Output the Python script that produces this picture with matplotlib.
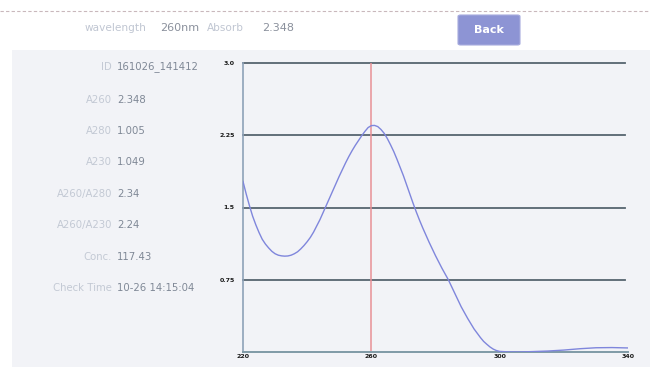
import matplotlib
matplotlib.use("Agg")
import matplotlib.pyplot as plt
from matplotlib.patches import Rectangle, FancyBboxPatch

# ---- data ----
wavelength = list(range(220, 301)) + [303, 306, 310, 315, 320, 325, 330, 335, 340]
absorb = [1.77, 1.64, 1.52, 1.41, 1.32, 1.24, 1.17, 1.12, 1.08, 1.045,
          1.02, 1.005, 0.998, 0.995, 0.997, 1.005, 1.02, 1.04, 1.07, 1.105,
          1.145, 1.19, 1.245, 1.31, 1.375, 1.45, 1.525, 1.60, 1.675, 1.75,
          1.825, 1.895, 1.965, 2.03, 2.09, 2.145, 2.195, 2.245, 2.29, 2.33,
          2.35, 2.352, 2.34, 2.31, 2.27, 2.215, 2.15, 2.08, 2.0, 1.915,
          1.83, 1.735, 1.64, 1.545, 1.455, 1.37, 1.29, 1.215, 1.14, 1.07,
          1.0, 0.935, 0.87, 0.81, 0.75, 0.68, 0.61, 0.54, 0.47, 0.41,
          0.35, 0.295, 0.24, 0.195, 0.15, 0.11, 0.08, 0.052, 0.03, 0.015,
          0.006, 0.001, 0.0, 0.004, 0.01, 0.02, 0.034, 0.044, 0.046, 0.042]
marker_wl = 260
y_ticks = [0.75, 1.5, 2.25, 3.0]
y_tick_labels = ["0.75", "1.5", "2.25", "3.0"]
x_ticks = [220, 260, 300, 340]
x_tick_labels = ["220", "260", "300", "340"]

info_labels = ["ID", "A260", "A280", "A230", "A260/A280", "A260/A230", "Conc.", "Check Time"]
info_values = ["161026_141412", "2.348", "1.005", "1.049", "2.34", "2.24", "117.43", "10-26 14:15:04"]
header_wavelength = "260nm"
header_absorb = "2.348"

W, H = 650, 367
fig = plt.figure(figsize=(W / 100, H / 100), dpi=100)
fig.patch.set_facecolor("white")

def fx(px):
    return px / W

def fy(py):
    return 1 - py / H

# panel background
fig.patches.append(Rectangle((fx(12), 0), fx(650 - 12), fy(50), transform=fig.transFigure,
                             facecolor="#f2f3f7", edgecolor="none", zorder=-10))
# dashed top line
fig.add_artist(plt.Line2D([0, 1], [fy(11), fy(11)], transform=fig.transFigure,
                          color="#c9b8bc", lw=0.8, ls=(0, (3, 2))))

# header texts
fig.text(fx(146), fy(28), "wavelength", color="#c0c6d2", fontsize=7.6, ha="right", va="center")
fig.text(fx(160), fy(28), header_wavelength, color="#8a909c", fontsize=8, ha="left", va="center")
fig.text(fx(207), fy(28), "Absorb", color="#c0c6d2", fontsize=7.6, ha="left", va="center")
fig.text(fx(262), fy(28), header_absorb, color="#8a909c", fontsize=8, ha="left", va="center")

# Back button
fig.patches.append(FancyBboxPatch((fx(458), fy(45)), fx(62), fy(15) - fy(45),
                                  boxstyle="round,pad=0,rounding_size=0.004",
                                  transform=fig.transFigure, facecolor="#8d94d4",
                                  edgecolor="#a7acde", lw=0.8, zorder=-5))
fig.text(fx(489), fy(30), "Back", color="white", fontsize=8, fontweight="bold",
         ha="center", va="center")

# info rows
rows_y = [67, 100, 131, 162, 194, 225, 257, 288]
for lab, val, yy in zip(info_labels, info_values, rows_y):
    fig.text(fx(112), fy(yy), lab, color="#c3c9d4", fontsize=7.3, ha="right", va="center")
    fig.text(fx(117), fy(yy), val, color="#7f8896", fontsize=7.3, ha="left", va="center")

# chart axes
ax = fig.add_axes([fx(243), fy(352), fx(628) - fx(243), fy(63) - fy(352)], zorder=5)
ax.set_facecolor("#f2f3f7")
ax.set_xlim(220, 340)
ax.set_ylim(0, 3.0)
for t in y_ticks:
    ax.axhline(t, xmax=0.992, color="#56656f", lw=1.3, zorder=1, clip_on=False)
ax.axvline(marker_wl, color="#e89096", lw=1.1, zorder=2)
ax.plot(wavelength, absorb, color="#7f86dc", lw=1.0, zorder=3, solid_joinstyle="round")

for s in ["top", "right"]:
    ax.spines[s].set_visible(False)
ax.spines["left"].set_color("#8ea2b8")
ax.spines["left"].set_linewidth(1.2)
ax.spines["bottom"].set_color("#7f9aa6")
ax.spines["bottom"].set_linewidth(1.4)

ax.set_yticks(y_ticks)
ax.set_yticklabels(y_tick_labels)
ax.set_xticks(x_ticks)
ax.set_xticklabels(x_tick_labels)
ax.tick_params(axis="both", length=0, labelsize=4.5, labelcolor="#1a1a1a")
ax.tick_params(axis="y", pad=6)
ax.tick_params(axis="x", pad=1.5)
for lbl in ax.get_xticklabels() + ax.get_yticklabels():
    lbl.set_fontweight("bold")

fig.savefig("out.png", dpi=100, facecolor=fig.get_facecolor())
